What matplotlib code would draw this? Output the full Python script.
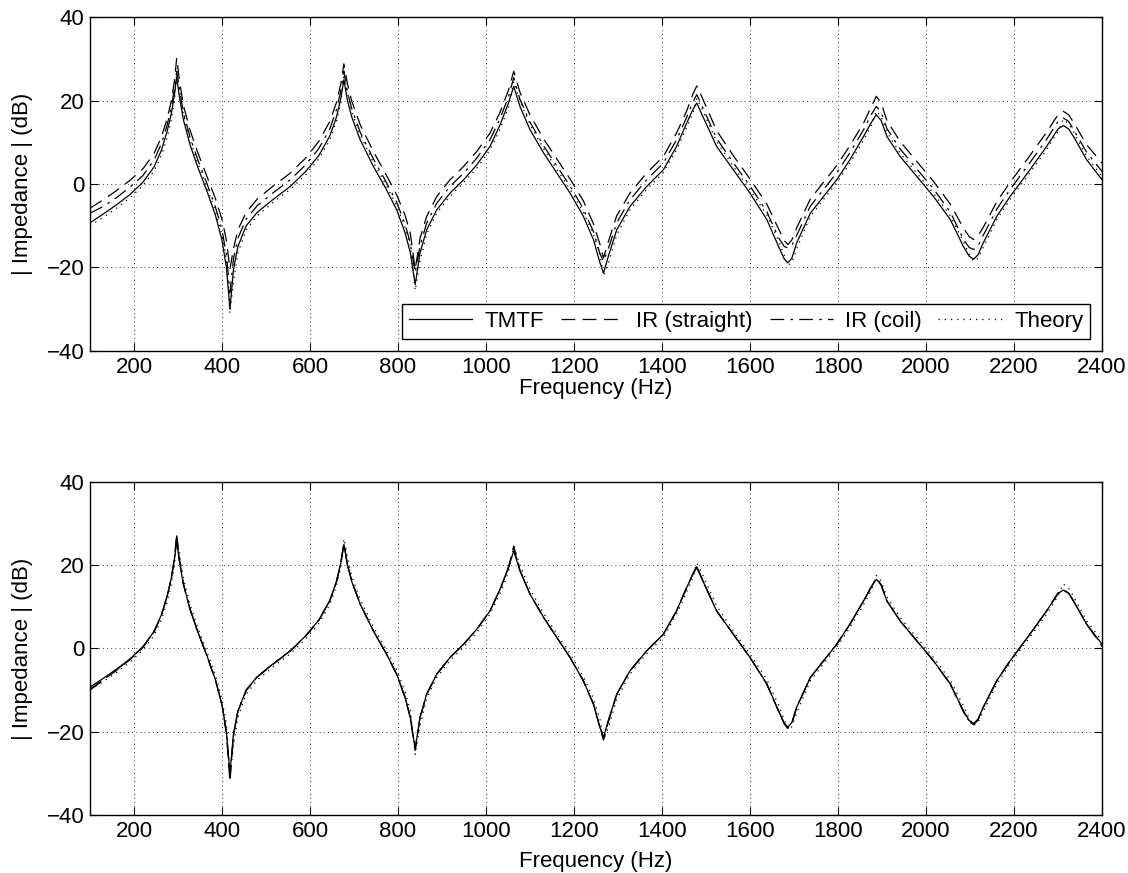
import matplotlib
matplotlib.use('Agg')
import matplotlib.pyplot as plt

plt.rcParams['font.family'] = ['Liberation Sans', 'DejaVu Sans']
plt.rcParams['font.size'] = 16

# frequency grid (Hz), shared by all curves
freq = [100, 130, 160, 190, 220, 245, 262, 275, 285, 292,
        297, 303, 312, 327, 345, 365, 385, 400, 410, 418,
        426, 436, 455, 480, 515, 555, 590, 620, 645, 660,
        670, 677, 685, 695, 714, 744, 774, 797, 816, 828,
        839, 850, 865, 888, 918, 949, 979, 1009, 1032, 1051,
        1063, 1077, 1100, 1131, 1161, 1191, 1221, 1244, 1259, 1267,
        1278, 1297, 1327, 1365, 1403, 1433, 1456, 1470, 1479, 1490,
        1524, 1562, 1600, 1638, 1665, 1678, 1686, 1695, 1706, 1737,
        1767, 1797, 1827, 1858, 1876, 1887, 1898, 1911, 1941, 1979,
        2017, 2055, 2085, 2098, 2108, 2118, 2130, 2161, 2191, 2236,
        2274, 2300, 2312, 2324, 2335, 2365, 2400]

# top panel
tmtf = [-9.3, -7.2, -5.0, -2.6, 0.4, 4.0, 8.0, 12.5, 17.0, 21.5,
        25.7, 21.0, 15.5, 9.5, 4.0, -1.5, -7.5, -13.5, -20.0, -30.0,
        -20.5, -15.0, -10.0, -6.8, -3.8, -0.6, 3.0, 6.8, 11.5, 16.0,
        20.5, 25.0, 20.0, 16.0, 10.6, 4.2, -1.4, -6.2, -11.7, -16.5,
        -24.1, -16.5, -11.0, -6.2, -2.2, 1.0, 4.6, 9.0, 14.2, 19.4,
        23.4, 18.6, 13.0, 7.4, 2.6, -2.2, -7.7, -13.3, -18.9, -21.3,
        -17.3, -11.0, -5.4, -0.6, 3.4, 9.0, 14.6, 17.8, 19.4, 16.8,
        9.0, 3.4, -2.2, -8.5, -15.0, -18.0, -18.9, -17.8, -14.1, -7.0,
        -3.0, 1.0, 5.8, 11.4, 14.8, 16.6, 15.2, 11.4, 6.6, 1.8,
        -3.0, -8.5, -15.0, -17.3, -18.0, -17.0, -14.1, -7.7, -3.0, 3.4,
        9.0, 13.2, 14.0, 13.2, 11.4, 5.8, 1.0]

ir_straight = [-5.8, -3.8, -1.6, 0.8, 3.6, 7.2, 11.2, 15.5, 20.0, 24.8,
               30.2, 25.0, 19.0, 13.0, 7.5, 2.0, -3.5, -8.5, -13.5, -20.5,
               -15.5, -11.0, -6.8, -3.6, -0.6, 2.6, 6.2, 10.2, 15.0, 19.5,
               24.0, 28.8, 24.0, 19.8, 14.2, 7.8, 2.0, -2.6, -7.5, -11.8,
               -20.5, -13.0, -7.8, -3.0, 1.0, 4.2, 7.8, 12.2, 17.2, 22.5,
               27.0, 22.0, 16.5, 10.8, 6.0, 1.2, -4.0, -9.5, -14.5, -17.7,
               -13.8, -7.6, -2.2, 2.6, 6.6, 12.2, 17.5, 21.5, 23.5, 21.0,
               12.8, 6.8, 1.2, -4.8, -10.8, -13.6, -14.5, -13.4, -10.5, -3.6,
               0.4, 4.4, 9.2, 14.6, 18.6, 21.0, 19.4, 15.2, 10.2, 5.4,
               0.6, -4.8, -10.6, -12.6, -13.3, -12.4, -10.4, -4.2, 0.4, 6.8,
               12.4, 16.6, 17.4, 16.6, 14.8, 9.4, 5.0]

ir_coil = [-7.0, -5.4, -3.3, -0.8, 2.0, 5.6, 9.6, 14.0, 18.5, 23.0,
           27.0, 23.0, 17.3, 11.3, 5.8, 0.3, -5.5, -11.0, -17.0, -26.0,
           -18.0, -13.0, -8.4, -5.2, -2.2, 1.0, 4.6, 8.5, 13.2, 17.8,
           22.3, 27.0, 22.0, 18.0, 12.4, 6.0, 0.3, -4.4, -9.6, -14.2,
           -21.3, -14.8, -9.4, -4.6, -0.6, 2.6, 6.2, 10.6, 15.7, 20.9,
           25.5, 20.3, 14.8, 9.1, 4.3, -0.5, -5.9, -11.4, -16.7, -18.5,
           -15.5, -9.3, -3.8, 1.0, 5.0, 10.6, 16.0, 19.6, 21.4, 18.9,
           10.9, 5.1, -0.5, -6.6, -12.9, -15.0, -15.3, -14.8, -12.3, -5.3,
           -1.3, 2.7, 7.5, 13.0, 16.7, 18.6, 17.2, 13.3, 8.4, 3.6,
           -1.2, -6.7, -13.3, -15.2, -15.7, -14.9, -12.3, -6.0, -1.3, 5.1,
           10.7, 15.0, 15.8, 15.0, 13.1, 7.6, 3.0]

theory = [-10.0, -8.0, -5.8, -3.4, -0.4, 3.0, 6.8, 11.0, 15.5, 20.0,
          26.5, 23.0, 16.8, 10.6, 5.0, -0.6, -6.5, -12.2, -18.0, -31.0,
          -23.5, -16.5, -11.0, -7.6, -4.5, -1.3, 2.2, 6.0, 10.5, 15.0,
          19.5, 26.3, 22.0, 17.3, 11.8, 5.2, -0.5, -5.2, -10.4, -14.8,
          -25.5, -18.5, -12.0, -7.0, -2.9, 0.3, 3.8, 8.2, 13.2, 18.3,
          24.5, 20.0, 14.2, 8.4, 3.5, -1.3, -6.7, -12.0, -17.0, -22.0,
          -19.0, -12.2, -6.2, -1.3, 2.7, 8.2, 13.6, 17.0, 20.5, 18.2,
          10.2, 4.2, -1.4, -7.4, -13.6, -17.2, -19.5, -18.8, -15.5, -7.8,
          -3.7, 0.3, 5.0, 10.5, 14.0, 17.5, 16.2, 12.4, 7.4, 2.6,
          -2.2, -7.6, -13.8, -16.8, -18.5, -17.8, -15.2, -8.5, -3.7, 2.7,
          8.2, 12.6, 15.5, 14.4, 12.5, 6.6, 1.8]

# bottom panel (corrected IR curves)
straight_corr = [-10.0, -7.6, -5.3, -2.8, 0.2, 3.8, 7.8, 12.3, 17.0, 21.8,
                 27.5, 21.5, 15.6, 9.5, 3.9, -1.6, -7.6, -13.7, -20.5, -32.0,
                 -21.0, -15.2, -10.1, -6.9, -3.9, -0.7, 2.9, 6.7, 11.4, 16.0,
                 20.6, 25.2, 20.2, 16.1, 10.7, 4.2, -1.4, -6.3, -11.8, -16.8,
                 -24.5, -16.8, -11.1, -6.2, -2.2, 1.0, 4.6, 9.0, 14.2, 19.5,
                 24.6, 18.8, 13.0, 7.4, 2.6, -2.2, -7.8, -13.4, -19.2, -22.0,
                 -17.6, -11.1, -5.4, -0.6, 3.4, 9.0, 14.6, 17.9, 19.8, 17.0,
                 9.0, 3.4, -2.2, -8.6, -15.2, -18.2, -19.2, -18.0, -14.2, -7.0,
                 -3.0, 1.0, 5.8, 11.4, 14.9, 16.9, 15.3, 11.4, 6.6, 1.8,
                 -3.0, -8.6, -15.2, -17.6, -18.3, -17.2, -14.2, -7.7, -3.0, 3.4,
                 9.0, 13.3, 14.1, 13.3, 11.4, 5.8, 0.5]

coil_corr = [-9.8, -7.5, -5.2, -2.7, 0.3, 3.9, 7.9, 12.4, 17.0, 21.6,
             27.0, 21.3, 15.5, 9.5, 3.9, -1.6, -7.6, -13.6, -20.3, -31.0,
             -20.8, -15.1, -10.0, -6.8, -3.8, -0.6, 3.0, 6.8, 11.5, 16.0,
             20.5, 25.0, 20.1, 16.0, 10.6, 4.2, -1.4, -6.2, -11.8, -16.6,
             -24.0, -16.6, -11.0, -6.2, -2.2, 1.0, 4.6, 9.0, 14.2, 19.4,
             24.0, 18.7, 13.0, 7.4, 2.6, -2.2, -7.7, -13.3, -19.0, -21.6,
             -17.4, -11.0, -5.4, -0.6, 3.4, 9.0, 14.6, 17.8, 19.6, 16.9,
             9.0, 3.4, -2.2, -8.5, -15.1, -18.1, -19.0, -17.9, -14.1, -7.0,
             -3.0, 1.0, 5.8, 11.4, 14.8, 16.8, 15.2, 11.4, 6.6, 1.8,
             -3.0, -8.5, -15.1, -17.5, -18.2, -17.1, -14.1, -7.7, -3.0, 3.4,
             9.0, 13.2, 14.0, 13.2, 11.4, 5.8, 0.8]

xticks = list(range(200, 2401, 200))
yticks = [-40, -20, 0, 20, 40]
labels = ['TMTF', 'IR (straight)', 'IR (coil)', 'Theory']

fig = plt.figure(figsize=(11.28, 8.73), dpi=100)
ax1 = fig.add_axes([0.0798, 0.598, 0.8972, 0.3825])
ax2 = fig.add_axes([0.0798, 0.0664, 0.8972, 0.3818])


def draw(ax, curves, xpad):
    styles = [dict(linestyle='-'),
              dict(linestyle=(0, (11, 6))),
              dict(linestyle=(0, (11, 5, 2, 5))),
              dict(linestyle=(0, (1, 4)))]
    for y, st, lab in zip(curves, styles, labels):
        ax.plot(freq, y, color='black', linewidth=0.9, label=lab, **st)
    ax.set_xlim(100, 2400)
    ax.set_ylim(-40, 40)
    ax.set_xticks(xticks)
    ax.set_yticks(yticks)
    ax.grid(True, color='black', linestyle=(0, (1, 4)), linewidth=0.6)
    ax.tick_params(direction='in', top=True, right=True, length=6,
                   width=0.8, labelsize=16, pad=4)
    for s in ax.spines.values():
        s.set_linewidth(1.0)
    ax.set_xlabel('Frequency (Hz)', fontsize=16, labelpad=xpad)
    ax.set_ylabel('| Impedance | (dB)', fontsize=16, labelpad=10)


draw(ax1, [tmtf, ir_straight, ir_coil, theory], 0)
draw(ax2, [tmtf, straight_corr, coil_corr, theory], 7)

leg = ax1.legend(loc='lower right', ncol=4, handlelength=2.85,
                 handletextpad=0.55, columnspacing=0.75, borderaxespad=0.55,
                 fancybox=False, edgecolor='black', framealpha=1,
                 fontsize=16, borderpad=0.3)
leg.get_frame().set_linewidth(1.0)

fig.savefig('out.png', dpi=100)
